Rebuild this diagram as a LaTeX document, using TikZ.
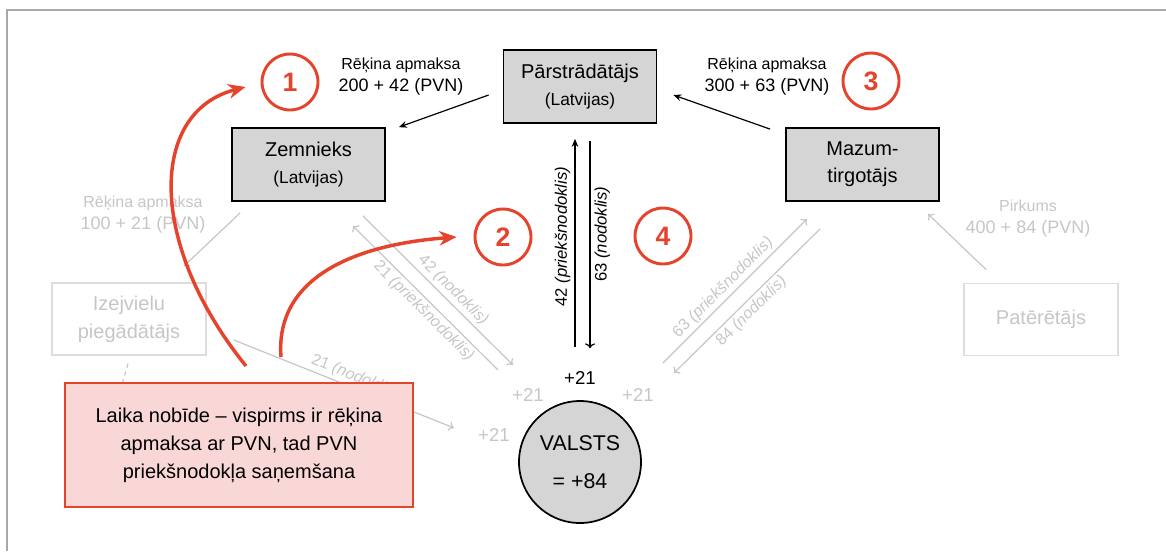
\documentclass[tikz,border=0pt]{standalone}
\usepackage{fontspec}
\setmainfont{Liberation Sans}
\usetikzlibrary{arrows.meta,calc}

\definecolor{vred}{HTML}{E6432D}
\definecolor{vpink}{HTML}{F8D7D6}
\definecolor{vgray}{HTML}{D5D5D5}
\definecolor{vfaint}{HTML}{C6C6C6}
\definecolor{vframe}{HTML}{A8A8A8}

\begin{document}
\begin{tikzpicture}[x=0.75pt,y=-0.75pt]
\tikzstyle{box}=[draw=black,line width=1.3pt,fill=vgray,minimum width=114.75pt,minimum height=54.75pt,align=center,font=\fontsize{15}{20}\selectfont]
\tikzstyle{ghost}=[draw=vfaint!60,line width=1.2pt,minimum width=115.5pt,minimum height=54pt,align=center,text=vfaint,font=\fontsize{15}{21}\selectfont]
\tikzstyle{num}=[draw=vred,line width=2.2pt,circle,fill=white,minimum size=42pt,inner sep=0pt,text=vred,font=\fontsize{20}{20}\selectfont\bfseries]
\tikzstyle{pay}=[align=center,font=\fontsize{12}{16.5}\selectfont]
\tikzstyle{flow}=[-{Stealth[length=6pt,width=5pt]},line width=0.9pt]
\tikzstyle{tax}=[-{To[length=4pt,width=7pt]},draw=vfaint,line width=0.9pt]
\tikzstyle{tlabel}=[font=\fontsize{12}{12}\selectfont,text=vfaint,inner sep=2pt]
\tikzstyle{vlabel}=[font=\fontsize{12.5}{12.5}\selectfont,inner sep=3pt]
\tikzstyle{plus}=[font=\fontsize{14}{14}\selectfont,text=vfaint]
\tikzstyle{lag}=[-{Stealth[length=13pt,width=11pt]},draw=vred,line width=2.6pt]

\useasboundingbox (0,0) rectangle (1166,551);
\draw[vframe,line width=1.5pt] (7,551) -- (7,10) -- (1166,10);

% participants
\node[box] at (580,86.5) (parstr) {Pārstrādātājs\\{\fontsize{13}{20}\selectfont (Latvijas)}};
\node[box] at (308.5,164.5) (zem) {Zemnieks\\{\fontsize{13}{20}\selectfont (Latvijas)}};
\node[box] at (862.5,164.5) (mazum) {Mazum-\\tirgotājs};
\node[ghost] at (129,319) (izej) {Izejvielu\\piegādātājs};
\node[ghost] at (1041,319.5) (pater) {Patērētājs};
\node[draw=black,line width=1.3pt,circle,fill=vgray,minimum size=91.5pt,align=center,font=\fontsize{16}{29}\selectfont] at (580,462) (valsts) {VALSTS\\= +84};

\node[num] at (290,82) (c1) {1};
\node[num] at (503,237) (c2) {2};
\node[num] at (871,81) (c3) {3};
\node[num] at (663,236) (c4) {4};

\node[pay] at (401,77) (pay1) {Rēķina apmaksa\\{\fontsize{13.5}{16.5}\selectfont 200 + 42 (PVN)}};
\node[pay] at (767,77) (pay3) {Rēķina apmaksa\\{\fontsize{13.5}{16.5}\selectfont 300 + 63 (PVN)}};
\node[pay,text=vfaint] at (143,215) (pay0) {Rēķina apmaksa\\{\fontsize{13.5}{16.5}\selectfont 100 + 21 (PVN)}};
\node[pay,text=vfaint] at (1028,219) (pirk) {Pirkums\\{\fontsize{13.5}{16.5}\selectfont 400 + 84 (PVN)}};

\node[font=\fontsize{14}{14}\selectfont] at (580,378) (p0) {+21};
\node[plus] at (528,395) (p1) {+21};
\node[plus] at (638,395) (p2) {+21};
\node[plus] at (494,435) (p3) {+21};

% invoices
\draw[flow] ($(parstr.west)+(-14,8.5)$) -- ($(zem.north east)+(13,0)$);
\draw[flow] ($(mazum.north west)+(-15,2)$) -- ($(parstr.east)+(16,8.5)$);
\draw[flow] ($(valsts.north)+(-5,-53)$) -- ($(parstr.south)+(-5,15)$)
  node[vlabel,pos=0.53,sloped,above] {42 \textit{(priekšnodoklis)}};
\draw[flow,<-] ($(valsts.north)+(10,-52)$) -- ($(parstr.south)+(10,17)$)
  node[vlabel,pos=0.55,sloped,below] {63 \textit{(nodoklis)}};

% faded flows
\draw[tax] ($(zem.south west)+(9,11)$) -- ($(izej.north east)+(-23,-16)$);
\draw[tax] ($(pater.north west)+(23,-13)$) -- ($(mazum.south east)+(-12,12)$);
\draw[tax] ($(zem.south east)+(-23,14)$) -- ($(valsts.center)+(-67,-97)$)
  node[tlabel,pos=0.55,sloped,above] {42 \textit{(nodoklis)}};
\draw[tax,<-] ($(zem.south east)+(-33,24)$) -- ($(valsts.center)+(-82,-92)$)
  node[tlabel,pos=0.54,sloped,below] {21 \textit{(priekšnodoklis)}};
\draw[tax] ($(valsts.center)+(83,-99)$) -- ($(mazum.south west)+(22,17)$)
  node[tlabel,pos=0.47,sloped,above] {63 \textit{(priekšnodoklis)}};
\draw[tax,<-] ($(valsts.center)+(94,-89)$) -- ($(mazum.south west)+(35,27)$)
  node[tlabel,pos=0.48,sloped,below] {84 \textit{(nodoklis)}};
\draw[tax] ($(izej.east)+(27,21)$) -- ($(valsts.west)+(-64,-34)$)
  node[tlabel,pos=0.53,sloped,above] {21 \textit{(nodoklis)}};
\draw[vfaint,line width=0.9pt,dashed] ($(izej.south)+(-1,8)$) -- ($(izej.south)+(-8,32)$);

% time lag note
\node[draw=vred,line width=1.5pt,fill=vpink,minimum width=261pt,minimum height=93pt,align=center,font=\fontsize{15}{21}\selectfont] at (239,445) (note) {Laika nobīde – vispirms ir rēķina\\apmaksa ar PVN, tad PVN\\priekšnodokļa saņemšana};

\draw[lag] ($(note.north west)+(182,-16)$) .. controls (148,245) and (148,112) .. ($(c1.west)+(-15,5)$);
\draw[lag] ($(note.north west)+(217,-25)$) .. controls (275,280) and (350,245) .. ($(c2.west)+(-17,0)$);
\end{tikzpicture}
\end{document}
